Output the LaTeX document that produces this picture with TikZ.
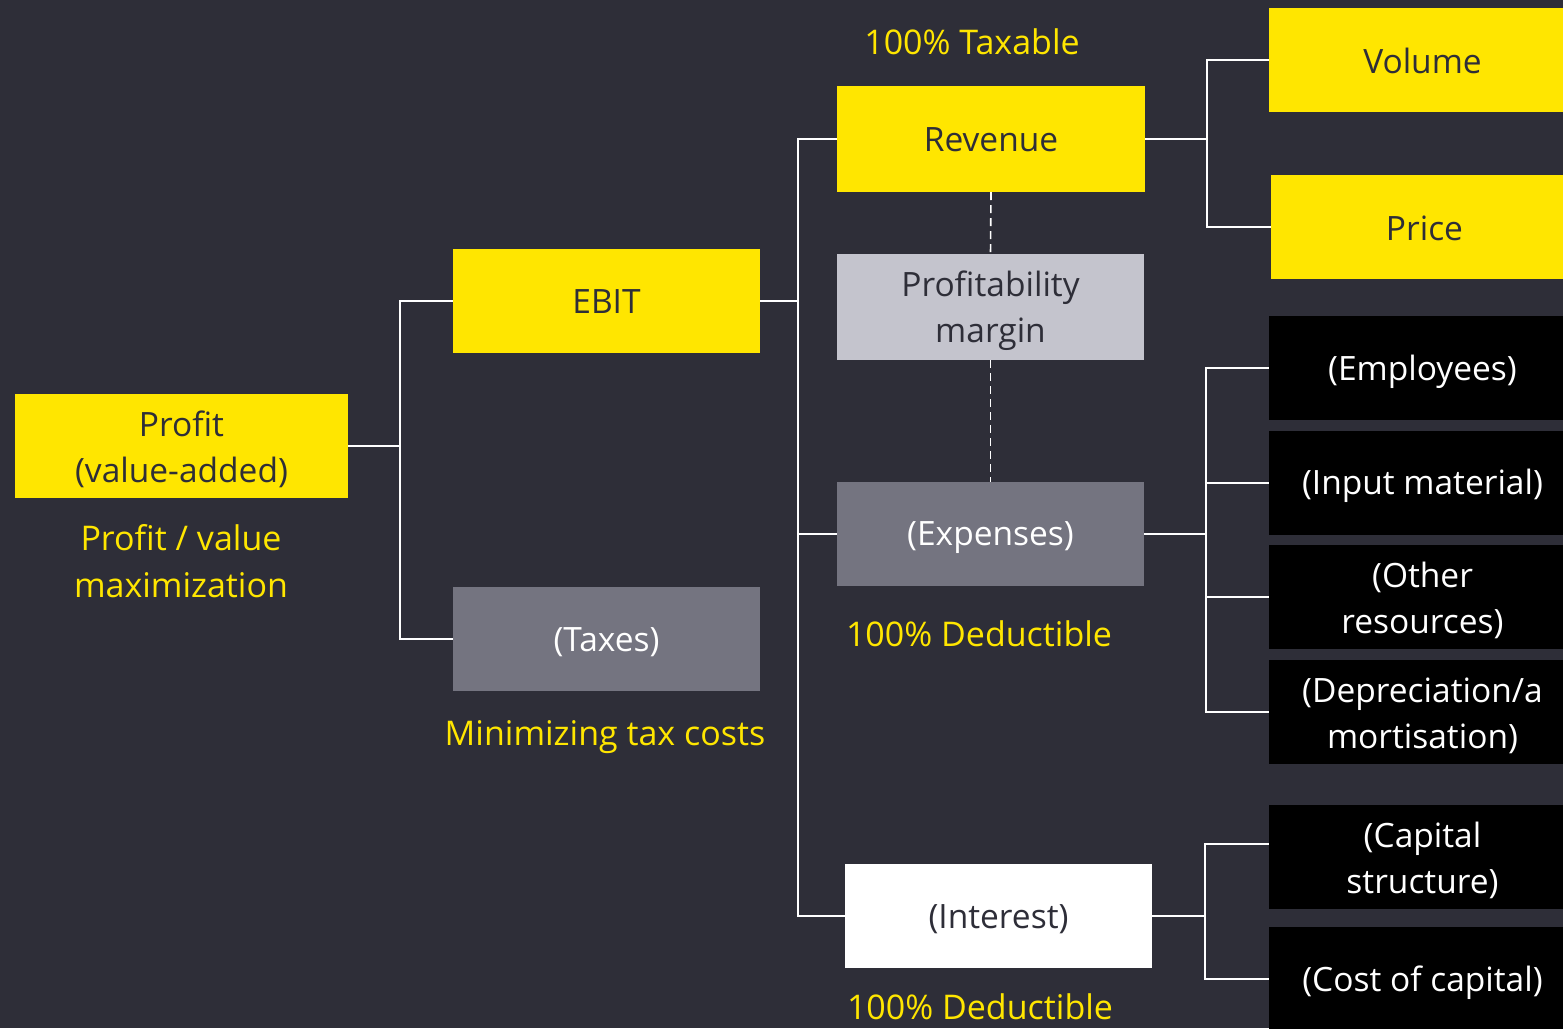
\documentclass[tikz,border=0pt]{standalone}
\usepackage{fontspec}
\setmainfont{Open Sans}
\definecolor{bgc}{HTML}{2E2E38}
\definecolor{eyyellow}{HTML}{FFE600}
\definecolor{midgray}{HTML}{747480}
\definecolor{lightgray}{HTML}{C4C4CD}
\definecolor{darktext}{HTML}{2E2E38}
\tikzset{
  box/.style={rectangle, minimum width=307, minimum height=104, inner sep=0},
  btxt/.style={inner sep=0, align=center, yshift=-3.5pt, font=\fontsize{33.5}{46}\selectfont},
  dtx/.style={label={[btxt, text=darktext]center:#1}},
  wtx/.style={label={[btxt, text=white]center:#1}},
  stx/.style={label={[btxt, text=darktext]center:\vphantom{(}#1}},
  ybox/.style={box, fill=eyyellow},
  gbox/.style={box, fill=midgray},
  lbox/.style={box, fill=lightgray},
  wbox/.style={box, fill=white},
  kbox/.style={box, fill=black},
  lbl/.style={inner sep=0, align=center, text=eyyellow, font=\fontsize{34}{47}\selectfont},
  conn/.style={draw=white, line width=2},
  dconn/.style={draw=white, line width=1.6, dash pattern=on 8pt off 5pt},
}
\begin{document}
\begin{tikzpicture}[x=1pt, y=-1pt]
\fill[bgc] (0,0) rectangle (1563,1028);
\useasboundingbox (0,0) rectangle (1563,1028);
\clip (0,0) rectangle (1563,1028);
% nodes
\node[ybox, minimum width=333, dtx={Profit\\(value-added)}] (profit) at (181.5,446) {};
\node[ybox, stx={EBIT}] (ebit) at (606.5,301) {};
\node[gbox, wtx={(Taxes)}] (taxes) at (606.5,639) {};
\node[ybox, minimum width=308, minimum height=106, stx={Revenue}] (revenue) at (991,139) {};
\node[lbox, minimum height=106, dtx={Profitability\\margin}] (margin) at (990.5,307) {};
\node[gbox, wtx={(Expenses)}] (expenses) at (990.5,534) {};
\node[wbox, dtx={(Interest)}] (interest) at (998.5,916) {};
\node[ybox, stx={Volume}] (volume) at (1422.5,60) {};
\node[ybox, stx={Price}] (price) at (1424.5,227) {};
\node[kbox, wtx={(Employees)}] (employees) at (1422.5,368) {};
\node[kbox, wtx={(Input material)}] (input) at (1422.5,482.5) {};
\node[kbox, wtx={(Other\\resources)}] (other) at (1422.5,597) {};
\node[kbox, wtx={(Depreciation/a\\mortisation)}] (deprec) at (1422.5,712) {};
\node[kbox, wtx={(Capital\\structure)}] (capital) at (1422.5,857) {};
\node[kbox, wtx={(Cost of capital)}] (cost) at (1422.5,979) {};
% labels
\node[lbl] (taxable) at (972,42) {100\% Taxable};
\node[lbl] (profitlbl) at (181,561) {Profit / value\\maximization};
\node[lbl] (taxlbl) at (605,737) {Minimizing tax costs};
\node[lbl] (ded1) at (979,634) {100\% Deductible};
\node[lbl] (ded2) at (980,1007) {100\% Deductible};
% junctions
\coordinate (j1) at (400,446);
\coordinate (j2) at (798,301);
\coordinate (j3) at (1207,139);
\coordinate (j4) at (1206,534);
\coordinate (j5) at (1205,916);
\coordinate (capin) at ([yshift=13pt]capital.west);
% connectors
\draw[conn] (profit.east) -- (j1);
\draw[conn] (ebit.west) -| (j1) |- (taxes.west);
\draw[conn] (ebit.east) -- (j2);
\draw[conn] (revenue.west) -| (j2) |- (interest.west);
\draw[conn] (j2) |- (expenses.west);
\draw[conn] (revenue.east) -- (j3);
\draw[conn] (volume.west) -| (j3) |- (price.west);
\draw[conn] (expenses.east) -- (j4);
\draw[conn] (employees.west) -| (j4) |- (deprec.west);
\draw[conn] (j4) |- (input.west);
\draw[conn] (j4) |- (other.west);
\draw[conn] (interest.east) -- (j5);
\draw[conn] (capin) -| (j5) |- (cost.west);
\draw[dconn] (revenue.south) -- (margin.north);
\draw[dconn] (margin.south) -- (expenses.north);
\end{tikzpicture}
\end{document}
